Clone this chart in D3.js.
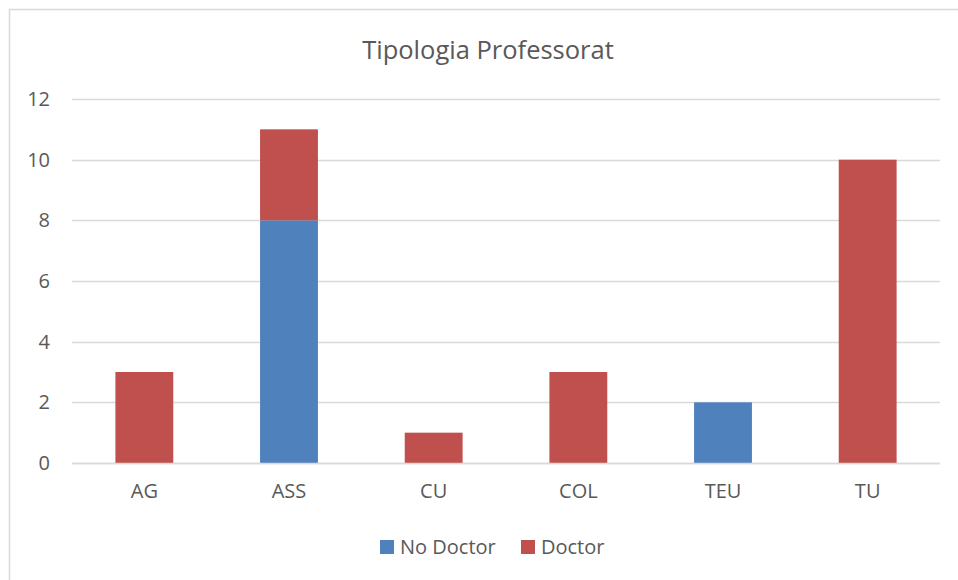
<!DOCTYPE html>
<html>
<head>
<meta charset="utf-8">
<script src="https://cdn.jsdelivr.net/npm/d3@7"></script>
<style>
  html, body { margin: 0; padding: 0; background: #fff; }
  svg { display: block; font-family: "Open Sans", Lato, sans-serif; }
</style>
</head>
<body>
<svg id="chart" width="958" height="580"></svg>
<script>
const title = "Tipologia Professorat";
const categories = ["AG", "ASS", "CU", "COL", "TEU", "TU"];
const seriesNames = ["No Doctor", "Doctor"];
const noDoctor = [0, 8, 0, 0, 2, 0];
const doctor = [3, 3, 1, 3, 0, 10];
const yTicks = [0, 2, 4, 6, 8, 10, 12];
const colors = ["#4F81BD", "#C0504D"];

const svg = d3.select("#chart");
const textColor = "#595959";
const font = "'Open Sans', Lato, sans-serif";
const labelSize = "20px";

// outer chart border
svg.append("rect")
  .attr("x", 9.5).attr("y", 9.5)
  .attr("width", 960).attr("height", 580)
  .attr("fill", "#fff").attr("stroke", "#D9D9D9").attr("stroke-width", 1.5);

const plot = { left: 72, right: 940, top: 99, bottom: 463 };

const x = d3.scaleBand().domain(categories).range([plot.left, plot.right]).padding(0);
const y = d3.scaleLinear().domain([0, 12]).range([plot.bottom, plot.top]);

// gridlines
svg.append("g").selectAll("line").data(yTicks).join("line")
  .attr("x1", plot.left).attr("x2", plot.right)
  .attr("y1", d => Math.round(y(d)) + 0.5).attr("y2", d => Math.round(y(d)) + 0.5)
  .attr("stroke", "#D9D9D9").attr("stroke-width", 1.5);

// y axis labels
const yAxis = d3.axisLeft(y).tickValues(yTicks).tickSize(0).tickPadding(0);
const gy = svg.append("g").attr("transform", `translate(50,0)`).call(yAxis);
gy.select(".domain").remove();
gy.selectAll("text").attr("fill", textColor).style("font-size", labelSize)
  .style("font-family", font);

// stacked bars
const data = categories.map((c, i) => ({ cat: c, "No Doctor": noDoctor[i], "Doctor": doctor[i] }));
const stack = d3.stack().keys(seriesNames)(data);
const barW = x.bandwidth() * 0.4;

svg.append("g").selectAll("g").data(stack).join("g")
  .attr("fill", (d, i) => colors[i])
  .selectAll("rect").data(d => d.filter(p => p[1] - p[0] > 0)).join("rect")
  .attr("x", d => x(d.data.cat) + (x.bandwidth() - barW) / 2)
  .attr("width", barW)
  .attr("y", d => y(d[1]))
  .attr("height", d => y(d[0]) - y(d[1]));

// baseline
svg.append("line")
  .attr("x1", plot.left).attr("x2", plot.right)
  .attr("y1", Math.round(y(0)) + 0.5).attr("y2", Math.round(y(0)) + 0.5)
  .attr("stroke", "#D9D9D9").attr("stroke-width", 1.5);

// x axis labels
const xAxis = d3.axisBottom(x).tickSize(0).tickPadding(0);
const gx = svg.append("g").attr("transform", `translate(0,${plot.bottom + 21})`).call(xAxis);
gx.select(".domain").remove();
gx.selectAll("text").attr("fill", textColor).style("font-size", labelSize)
  .style("font-family", font);

// title
svg.append("text")
  .attr("x", 488).attr("y", 59)
  .attr("text-anchor", "middle")
  .attr("fill", textColor)
  .style("font-size", "25.5px")
  .text(title);

// legend
const legendItems = [
  { name: seriesNames[0], color: colors[0], x: 380 },
  { name: seriesNames[1], color: colors[1], x: 521 }
];
const lg = svg.append("g");
legendItems.forEach(it => {
  lg.append("rect").attr("x", it.x).attr("y", 540).attr("width", 14).attr("height", 14).attr("fill", it.color);
  lg.append("text").attr("x", it.x + 20).attr("y", 554)
    .attr("fill", textColor).style("font-size", labelSize).text(it.name);
});
</script>
</body>
</html>
